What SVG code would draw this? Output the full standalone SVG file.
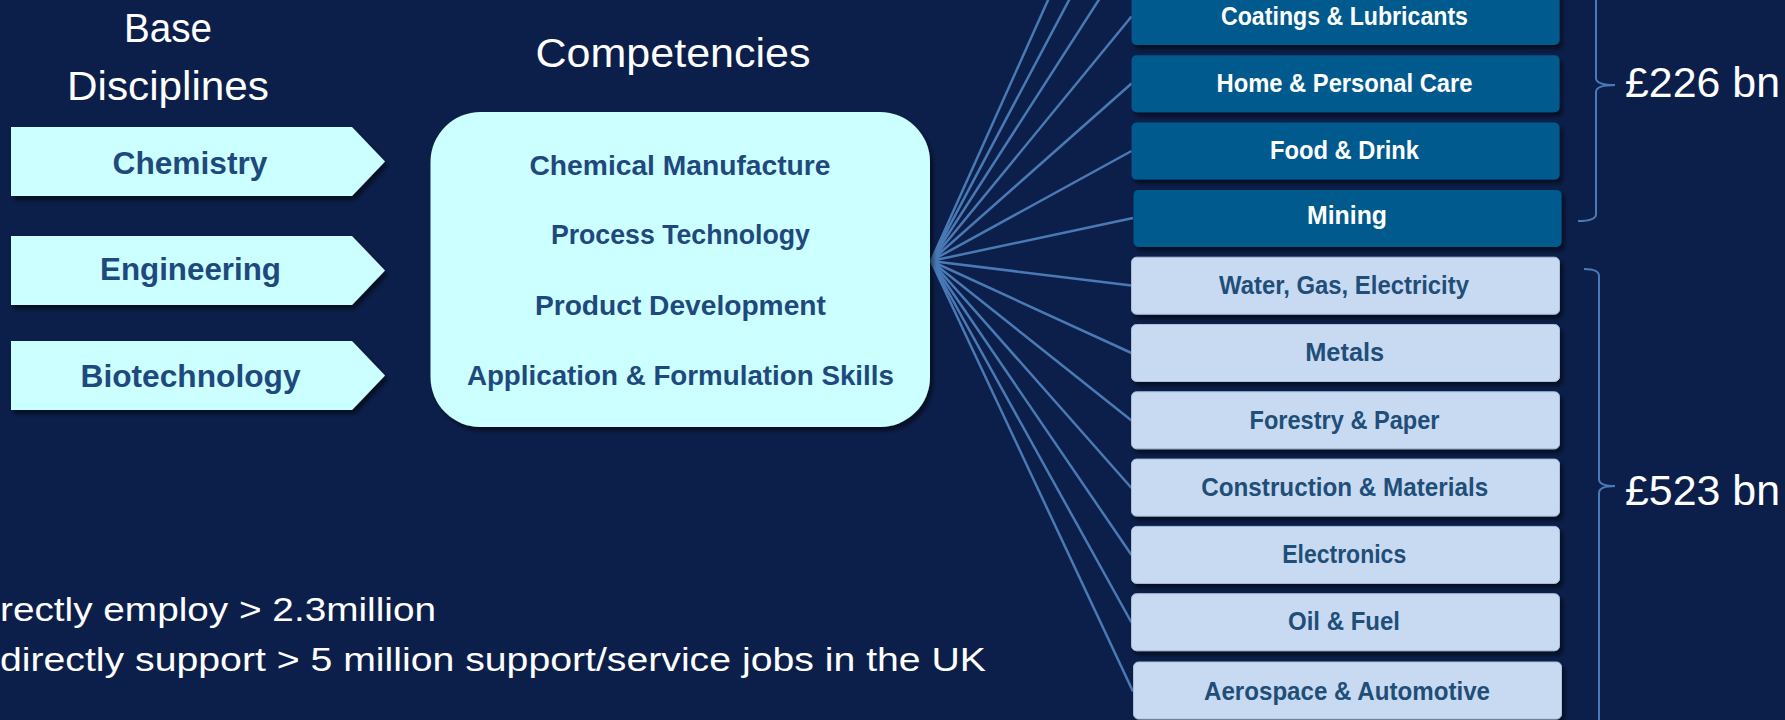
<svg xmlns="http://www.w3.org/2000/svg" width="1785" height="720" viewBox="0 0 1785 720">
<defs>
<filter id="sh" x="-10%" y="-10%" width="130%" height="140%">
<feDropShadow dx="3" dy="4" stdDeviation="2" flood-color="#000" flood-opacity="0.55"/>
</filter>
<style>
text{font-family:"Liberation Sans",Arial,sans-serif;text-anchor:middle}
.title{fill:#fff;font-size:40px}
.arrow{fill:#ccffff;filter:url(#sh)}
.alab{fill:#1f497d;font-size:32px;font-weight:bold}
.clab{fill:#1f497d;font-size:28px;font-weight:bold}
.dark{fill:#005a8e;filter:url(#sh)}
.light{fill:#c8daf1;stroke:#a9bfdc;stroke-width:1;filter:url(#sh)}
.dlab{fill:#fff;font-size:25px;font-weight:bold}
.llab{fill:#1f4e79;font-size:25px;font-weight:bold}
.conn line{stroke:#4a7ab5;stroke-width:2.5}
.brace{fill:none;stroke:#4a7ab5;stroke-width:2}
.val{fill:#fff;font-size:42px;text-anchor:start}
.foot{fill:#fff;font-size:34px;text-anchor:start}
</style>
</defs>
<rect width="1785" height="720" fill="#0c1f4a"/>

<g id="titles">
<text class="title" x="168" y="42" textLength="88" lengthAdjust="spacingAndGlyphs">Base</text>
<text class="title" x="168" y="100" textLength="202" lengthAdjust="spacingAndGlyphs">Disciplines</text>
<text class="title" x="673" y="67" textLength="275" lengthAdjust="spacingAndGlyphs">Competencies</text>
</g>

<g id="connectors" class="conn">
<line x1="931" y1="261" x2="1131.5" y2="-186"/>
<line x1="931" y1="261" x2="1131.5" y2="-118"/>
<line x1="931" y1="261" x2="1131.5" y2="-51"/>
<line x1="931" y1="261" x2="1131.5" y2="16.5"/>
<line x1="931" y1="261" x2="1131.5" y2="83.5"/>
<line x1="931" y1="261" x2="1131.5" y2="151"/>
<line x1="931" y1="261" x2="1133" y2="218"/>
<line x1="931" y1="261" x2="1131.5" y2="285.5"/>
<line x1="931" y1="261" x2="1131.5" y2="353"/>
<line x1="931" y1="261" x2="1131.5" y2="420.5"/>
<line x1="931" y1="261" x2="1131.5" y2="488"/>
<line x1="931" y1="261" x2="1131.5" y2="555"/>
<line x1="931" y1="261" x2="1131.5" y2="622.5"/>
<line x1="931" y1="261" x2="1133" y2="691.5"/>
</g>

<g id="chemistry">
<polygon class="arrow" points="11,127 352,127 385,161.5 352,196 11,196"/>
<text class="alab" x="190" y="174" textLength="155" lengthAdjust="spacingAndGlyphs">Chemistry</text>
</g>
<g id="engineering">
<polygon class="arrow" points="11,236 352,236 385,270.5 352,305 11,305"/>
<text class="alab" x="190.5" y="280" textLength="181" lengthAdjust="spacingAndGlyphs">Engineering</text>
</g>
<g id="biotechnology">
<polygon class="arrow" points="11,341 352,341 385,375.5 352,410 11,410"/>
<text class="alab" x="190.5" y="387" textLength="220" lengthAdjust="spacingAndGlyphs">Biotechnology</text>
</g>

<g id="competencies">
<rect x="430.5" y="112" width="499.5" height="315" rx="50" ry="50" fill="#ccffff" filter="url(#sh)"/>
<text class="clab" x="680" y="175" textLength="301" lengthAdjust="spacingAndGlyphs">Chemical Manufacture</text>
<text class="clab" x="680.4" y="244" textLength="259" lengthAdjust="spacingAndGlyphs">Process Technology</text>
<text class="clab" x="680.4" y="315" textLength="291" lengthAdjust="spacingAndGlyphs">Product Development</text>
<text class="clab" x="680.4" y="385" textLength="427" lengthAdjust="spacingAndGlyphs">Application &amp; Formulation Skills</text>
</g>

<g id="coatings">
<rect class="dark" x="1131.5" y="-12" width="428" height="57" rx="5"/>
<text class="dlab" x="1344.5" y="25" textLength="247" lengthAdjust="spacingAndGlyphs">Coatings &amp; Lubricants</text>
</g>
<g id="home">
<rect class="dark" x="1131.5" y="55.3" width="428" height="57" rx="5"/>
<text class="dlab" x="1344.5" y="92" textLength="256" lengthAdjust="spacingAndGlyphs">Home &amp; Personal Care</text>
</g>
<g id="food">
<rect class="dark" x="1131.5" y="122.6" width="428" height="57" rx="5"/>
<text class="dlab" x="1344.5" y="159" textLength="149" lengthAdjust="spacingAndGlyphs">Food &amp; Drink</text>
</g>
<g id="mining">
<rect class="dark" x="1133.5" y="189.9" width="428" height="57" rx="5"/>
<text class="dlab" x="1347" y="224" textLength="80" lengthAdjust="spacingAndGlyphs">Mining</text>
</g>
<g id="water">
<rect class="light" x="1131.5" y="257.2" width="428" height="57" rx="5"/>
<text class="llab" x="1344" y="293.5" textLength="250" lengthAdjust="spacingAndGlyphs">Water, Gas, Electricity</text>
</g>
<g id="metals">
<rect class="light" x="1131.5" y="324.5" width="428" height="57" rx="5"/>
<text class="llab" x="1344.7" y="360.5" textLength="79" lengthAdjust="spacingAndGlyphs">Metals</text>
</g>
<g id="forestry">
<rect class="light" x="1131.5" y="391.8" width="428" height="57" rx="5"/>
<text class="llab" x="1344.5" y="428.5" textLength="190" lengthAdjust="spacingAndGlyphs">Forestry &amp; Paper</text>
</g>
<g id="construction">
<rect class="light" x="1131.5" y="459.1" width="428" height="57" rx="5"/>
<text class="llab" x="1344.7" y="495.5" textLength="287" lengthAdjust="spacingAndGlyphs">Construction &amp; Materials</text>
</g>
<g id="electronics">
<rect class="light" x="1131.5" y="526.4" width="428" height="57" rx="5"/>
<text class="llab" x="1344.2" y="563" textLength="124" lengthAdjust="spacingAndGlyphs">Electronics</text>
</g>
<g id="oil">
<rect class="light" x="1131.5" y="593.7" width="428" height="57" rx="5"/>
<text class="llab" x="1344" y="630" textLength="112" lengthAdjust="spacingAndGlyphs">Oil &amp; Fuel</text>
</g>
<g id="aerospace">
<rect class="light" x="1133.5" y="662" width="428" height="57" rx="5"/>
<text class="llab" x="1347" y="700" textLength="286" lengthAdjust="spacingAndGlyphs">Aerospace &amp; Automotive</text>
</g>

<g id="brace226">
<path class="brace" d="M1578,-51 Q1596,-51 1596,-44 L1596,78 Q1596,85 1615,85 Q1596,85 1596,92 L1596,214 Q1596,221 1578,221"/>
<text class="val" x="1625" y="97" textLength="155" lengthAdjust="spacingAndGlyphs">£226 bn</text>
</g>
<g id="brace523">
<path class="brace" d="M1584,269 Q1599,269 1599,276 L1599,479 Q1599,486 1615,486 Q1599,486 1599,493 L1599,760"/>
<text class="val" x="1625" y="505" textLength="155" lengthAdjust="spacingAndGlyphs">£523 bn</text>
</g>

<g id="footnote">
<text class="foot" x="0" y="621" textLength="436" lengthAdjust="spacingAndGlyphs">rectly employ &gt; 2.3million</text>
<text class="foot" x="0" y="671" textLength="986" lengthAdjust="spacingAndGlyphs">directly support &gt; 5 million support/service jobs in the UK</text>
</g>
</svg>
